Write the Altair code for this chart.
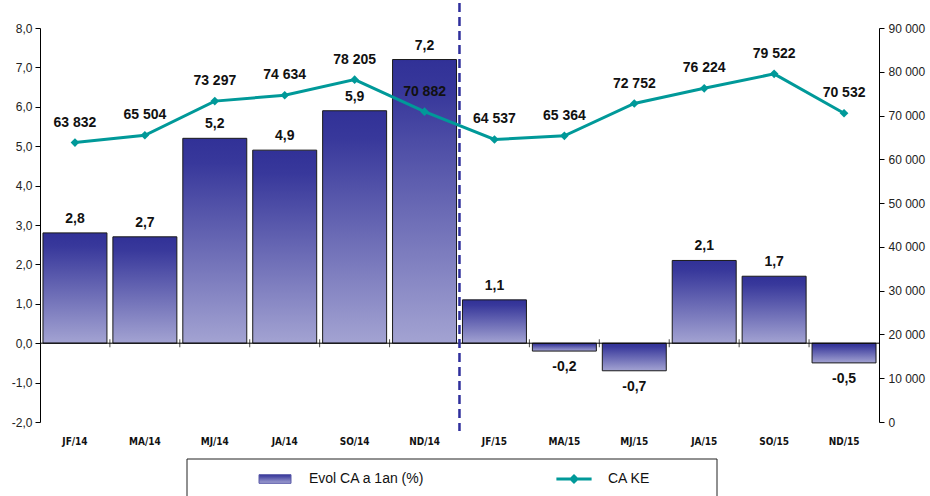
import altair as alt
import pandas as pd

categories = ["JF/14", "MA/14", "MJ/14", "JA/14", "SO/14", "ND/14",
              "JF/15", "MA/15", "MJ/15", "JA/15", "SO/15", "ND/15"]
evol = [2.8, 2.7, 5.2, 4.9, 5.9, 7.2, 1.1, -0.2, -0.7, 2.1, 1.7, -0.5]
ca = [63832, 65504, 73297, 74634, 78205, 70882, 64537, 65364, 72752, 76224, 79522, 70532]
left_ticks = [-2, -1, 0, 1, 2, 3, 4, 5, 6, 7, 8]
right_ticks = [0, 10000, 20000, 30000, 40000, 50000, 60000, 70000, 80000, 90000]
series_names = ["Evol CA a 1an (%)", "CA KE"]

df = pd.DataFrame({"cat": categories, "evol": evol, "ca": ca})
df["evol_lbl"] = [f"{v:.1f}".replace(".", ",") for v in evol]
df["ca_lbl"] = [f"{v:,}".replace(",", " ") for v in ca]
df["series"] = "CA KE"

FONT = "Liberation Sans"
TEAL = "#009999"
grad = alt.Gradient(gradient="linear", x1=0, x2=0, y1=0, y2=1,
                    stops=[alt.GradientStop(offset=0, color="#313197"),
                           alt.GradientStop(offset=0.12, color="#38389b"),
                           alt.GradientStop(offset=1, color="#a3a3d2")])

xscale = alt.Scale(paddingInner=0.085, paddingOuter=0.0425)
x_ax = alt.Axis(title=None, domain=False, ticks=False, labelAngle=0,
                labelFont="Liberation Sans Narrow, DejaVu Sans Condensed, Liberation Sans",
                labelFontWeight="bold", labelFontSize=10, labelPadding=14,
                labelColor="#111")


def xdef(**kw):
    return alt.X("cat:N", sort=categories, scale=xscale, axis=x_ax, **kw)


yl_scale = alt.Scale(domain=[-2, 8], nice=False, zero=False)
yl_ax = alt.Axis(title=None, values=left_ticks, grid=False,
                 labelExpr="replace(replace(format(datum.value,'.1f'),'.',','),'\u2212','-')",
                 domainColor="black", tickColor="black", tickSize=5,
                 labelFont=FONT, labelFontSize=12, labelColor="#222",
                 labelPadding=3)


def yldef(field):
    return alt.Y(field, scale=yl_scale, axis=yl_ax)


base = alt.Chart(df)

bars = base.mark_bar(color=grad, stroke="#1a1a1a", strokeWidth=1).encode(
    x=xdef(), y=yldef("evol:Q"))

pos_lbl = base.transform_filter("datum.evol >= 0").mark_text(
    font=FONT, fontSize=14, fontWeight="bold", color="#111", baseline="alphabetic", dy=-10
).encode(x=xdef(), y=yldef("evol:Q"), text="evol_lbl:N")
neg_lbl = base.transform_filter("datum.evol < 0").mark_text(
    font=FONT, fontSize=14, fontWeight="bold", color="#111", baseline="top", dy=9
).encode(x=xdef(), y=yldef("evol:Q"), text="evol_lbl:N")

zero_rule = base.transform_filter("datum.cat == 'JF/14'").transform_calculate(zero="0").mark_rule(
    color="black", strokeWidth=1).encode(y=yldef("zero:Q"))

zero_ticks = base.transform_filter("datum.cat != 'JF/14'").transform_calculate(zero="0").mark_tick(
    color="black", size=8, thickness=1, orient="vertical", xOffset=-3
).encode(x=xdef(bandPosition=0), y=yldef("zero:Q"))

dashed = base.transform_filter("datum.cat == 'JF/15'").mark_rule(
    color="#2f2f9c", strokeWidth=2.5, strokeDash=[9, 5], xOffset=-3
).encode(x=xdef(bandPosition=0), y=alt.value(-25), y2=alt.value(403))

frame = alt.Chart(pd.DataFrame({"f": [0]})).mark_rect(
    fill="white", stroke="#222", strokeWidth=1
).encode(x=alt.value(147), x2=alt.value(677), y=alt.value(431), y2=alt.value(495))

left = alt.layer(bars, zero_rule, zero_ticks, pos_lbl, neg_lbl, dashed, frame)

yr_scale = alt.Scale(domain=[0, 90000], nice=False)
yr_ax = alt.Axis(title=None, orient="right", values=right_ticks, grid=False,
                 labelExpr="replace(format(datum.value, ','), ',', ' ')",
                 domainColor="black", tickColor="black", tickSize=5,
                 labelFont=FONT, labelFontSize=12, labelColor="#222",
                 labelPadding=4)
y_right = alt.Y("ca:Q", scale=yr_scale, axis=yr_ax)

line_path = "M-1.1,-0.09L-0.22,-0.09L0,-0.32L0.22,-0.09L1.1,-0.09L1.1,0.09L0.22,0.09L0,0.32L-0.22,0.09L-1.1,0.09Z"
rect_path = "M-1,-0.27L1,-0.27L1,0.27L-1,0.27Z"
is_ca = "datum.value == 'CA KE'"
grad_expr = ("{gradient: 'linear', x1: 0, y1: 0, x2: 0, y2: 1, stops: ["
             "{offset: 0, color: '#313197'}, {offset: 1, color: '#a3a3d2'}]}")

legend = alt.Legend(
    title=None, orient="none", legendX=228, legendY=444, direction="horizontal",
    labelFont=FONT, labelFontSize=14, labelColor="#111", symbolSize=1024,
    labelOffset=27, columnPadding=131, padding=0,
    symbolType={"expr": f"{is_ca} ? '{line_path}' : '{rect_path}'"},
    symbolFillColor={"expr": f"{is_ca} ? '{TEAL}' : {grad_expr}"},
    symbolStrokeColor={"expr": f"{is_ca} ? '{TEAL}' : '#222'"},
    symbolStrokeWidth={"expr": f"{is_ca} ? 0 : 1"},
    symbolOpacity=1,
)

line = base.mark_line(strokeWidth=3).encode(
    x=xdef(), y=y_right,
    color=alt.Color("series:N", scale=alt.Scale(domain=series_names, range=["#5a5aa8", TEAL]),
                    legend=legend))
points = base.mark_point(shape="diamond", filled=True, size=75, opacity=1, color=TEAL).encode(
    x=xdef(), y=y_right)
ca_lbl = base.mark_text(font=FONT, fontSize=14, fontWeight="bold", color="#111",
                        baseline="alphabetic", dy=-16).encode(
    x=xdef(), y=y_right, text="ca_lbl:N")

right = alt.layer(line, points, ca_lbl)

chart = alt.layer(left, right).resolve_scale(y="independent").properties(
    width=839, height=394,
    autosize=alt.AutoSizeParams(type="none"),
    padding={"left": 40, "top": 28, "right": 51, "bottom": 74},
).configure_view(stroke=None)

chart.save("out.html", embed_options={"renderer": "svg", "actions": False})
